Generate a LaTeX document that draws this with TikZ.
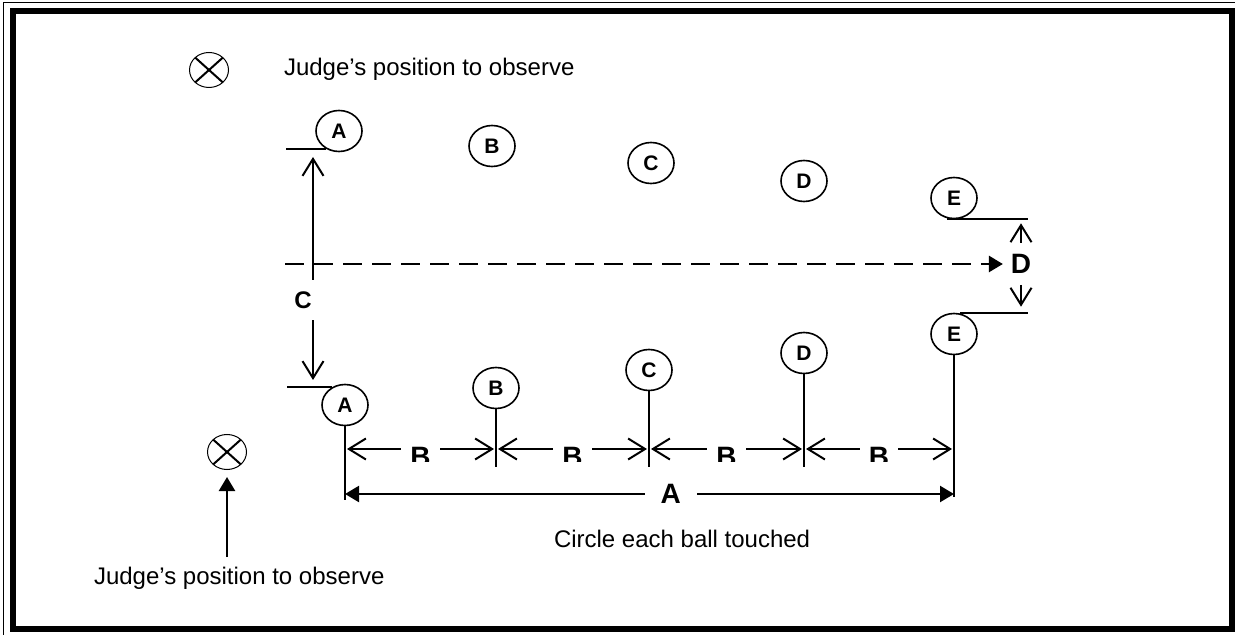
\documentclass[tikz,border=0pt]{standalone}
\usepackage{fontspec}
\setmainfont{Liberation Sans}
\usetikzlibrary{arrows.meta,shapes.geometric}
\begin{document}
\begin{tikzpicture}[x=0.5pt,y=-0.5pt,line width=1pt,
    ball/.style={draw,ellipse,line width=0.8pt,minimum width=23pt,minimum height=20.5pt,inner sep=0pt,font=\bfseries\fontsize{10.5}{12}\selectfont},
    judge/.style={draw,ellipse,line width=0.5pt,minimum width=19.5pt,minimum height=17.5pt,inner sep=0pt,
        path picture={\draw[line width=1pt] (path picture bounding box.north west) -- (path picture bounding box.south east)
            (path picture bounding box.north east) -- (path picture bounding box.south west);}},
    txt/.style={font=\fontsize{12}{14}\selectfont,inner sep=0pt,anchor=base west},
    big/.style={font=\bfseries\fontsize{14}{16}\selectfont},
    blab/.style={midway,anchor=north,yshift=2.5pt,fill=white,inner xsep=4.5pt,inner ysep=1pt,big},
    dimtip/.tip={Straight Barb[length=8.5pt,width=10.5pt]},
    tri/.tip={Triangle[length=7pt,width=8pt]}]
            \useasboundingbox (0,0) rectangle (1235,635);
            \draw[line width=0.5pt] (3,3) rectangle (1250,650);
            \draw[line width=3pt] (13,11) rectangle (1232,629);

            \node[judge] (jTop) at (209,70) {};
            \node[txt] (jTxtTop) at (283,76) {Judge’s position to observe};

            \node[ball] (tA) at (339,131) {A};
            \node[ball] (tB) at (492,146) {B};
            \node[ball] (tC) at (651,163) {C};
            \node[ball] (tD) at (804,181) {D};
            \node[ball] (tE) at (954,198) {E};
            \node[ball] (bA) at (345,405) {A};
            \node[ball] (bB) at (496,388) {B};
            \node[ball] (bC) at (649,370) {C};
            \node[ball] (bD) at (804,353) {D};
            \node[ball] (bE) at (954,334) {E};

            \draw (tA.235) -- ++(-40,0) coordinate (lnTop);
            \draw (bA.125) -- ++(-45,0) coordinate (lnBot);
            \coordinate (cUp) at (313,157);
            \coordinate (cDn) at (313,380);
            \draw[dimtip-dimtip] (cUp) -- (cDn);
            \node[fill=white,inner xsep=3pt,minimum height=20pt,font=\bfseries\fontsize{12}{14}\selectfont] (cLab) at (303,300) {C};

            \node[big,inner sep=0pt,minimum height=20pt] (dLab) at (1021,264) {D};
            \coordinate (dStart) at (285,264);
            \draw[dash pattern=on 9.5pt off 5pt,line width=1.3pt,-tri,shorten >=3.5pt] (dStart) -- (dLab.west);
            \draw ([xshift=-3.5pt]tE.south) -- ++(81,0) coordinate (eTop);
            \draw ([xshift=3pt]bE.north) -- ++(68,0) coordinate (eBot);
            \draw[-dimtip,shorten >=2pt] (dLab.north) -- (dLab.north |- eTop);
            \draw[-dimtip,shorten >=3pt] (dLab.south) -- (dLab.south |- eBot);

            \coordinate (yA) at (0,500);
            \coordinate (yB) at (0,467);
            \coordinate (yE) at (0,497);
            \coordinate (yDimB) at (0,449);
            \coordinate (yDimA) at (0,494);
            \draw (bA.south) -- (bA.south |- yA);
            \draw (bB.south) -- (bB.south |- yB);
            \draw (bC.south) -- (bC.south |- yB);
            \draw (bD.south) -- (bD.south |- yB);
            \draw (bE.south) -- (bE.south |- yE);

            \begin{scope}
            \clip (0,0) rectangle (1235,461);
            \draw[dimtip-dimtip] ([xshift=1pt]bA.south |- yDimB) -- ([xshift=-1pt]bB.south |- yDimB) node[blab] {B};
            \draw[dimtip-dimtip] ([xshift=1pt]bB.south |- yDimB) -- ([xshift=-1pt]bC.south |- yDimB) node[blab] {B};
            \draw[dimtip-dimtip] ([xshift=1pt]bC.south |- yDimB) -- ([xshift=-1pt]bD.south |- yDimB) node[blab] {B};
            \draw[dimtip-dimtip] ([xshift=1pt]bD.south |- yDimB) -- ([xshift=-1pt]bE.south |- yDimB) node[blab] {B};
            \end{scope}
            \draw[tri-tri,line width=1.1pt] (bA.south |- yDimA) -- (bE.south |- yDimA) node[pos=0.535,fill=white,inner xsep=8pt,inner ysep=1pt,big] (aLab) {A};

            \node[judge] (jBot) at (227,452) {};
            \coordinate (jFoot) at (227,557);
            \draw[-tri,line width=1.2pt,shorten >=3.5pt] (jFoot) -- (jBot.south);
            \node[txt] (jTxtBot) at (93,584) {Judge’s position to observe};
            \node[txt] (note) at (553,547) {Circle each ball touched};
        \end{tikzpicture}
\end{document}
